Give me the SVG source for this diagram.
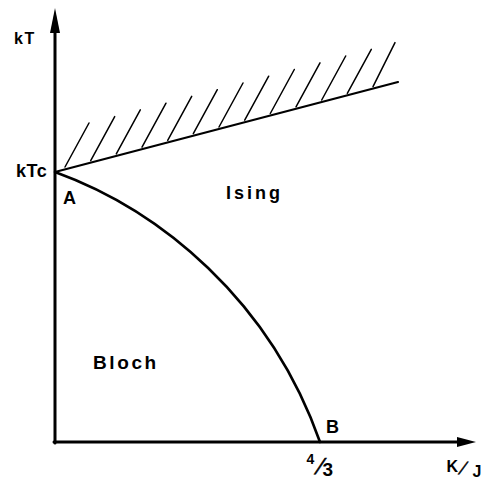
<svg xmlns="http://www.w3.org/2000/svg" width="485" height="480" viewBox="0 0 485 480">
<style>
.lbl{font-family:"Liberation Sans",Arial,sans-serif;font-weight:bold;fill:#000}
.sl{font-family:"Liberation Sans",Arial,sans-serif;fill:#000}
.ln{fill:none;stroke:#000;stroke-linecap:round}
</style>
<rect width="485" height="480" fill="#fff"/>
<g id="connectors">
<g id="axes">
<line class="ln" x1="55" y1="443" x2="55" y2="30" stroke-width="3"/>
<polygon points="55,8 50,33 60,33" fill="#000"/>
<line class="ln" x1="54" y1="442" x2="460" y2="442" stroke-width="3"/>
<polygon points="476,442 457,437 457,447" fill="#000"/>
</g>
<g id="upper-line">
<line class="ln" x1="55" y1="172" x2="398" y2="82" stroke-width="2.2"/>
<path class="ln" stroke-width="1.5" d="M65,167 l24,-44 M90.7,160.6 l24,-44 M116.3,153.9 l24,-44 M142,147.2 l24,-44 M167.7,140.4 l24,-44 M193.3,133.7 l24,-44 M219,127 l24,-44 M244.7,120.2 l24,-44 M270.3,113.5 l24,-44 M296,106.8 l24,-44 M321.7,100 l24,-44 M347.3,93.3 l24,-44 M373,86.6 l22,-44"/>
</g>
<g id="curve-AB">
<path class="ln" stroke-width="2.6" d="M55,172 C160,210 270,300 320,442"/>
</g>
</g>
<g id="label-kT"><text class="lbl" x="14" y="44" font-size="16" letter-spacing="1.5">kT</text></g>
<g id="label-kTc"><text class="lbl" x="16" y="177" font-size="18" letter-spacing="0.5">kTc</text></g>
<g id="node-A"><text class="lbl" x="63" y="204" font-size="18">A</text></g>
<g id="label-Ising"><text class="lbl" x="226" y="199" font-size="18" letter-spacing="3">Ising</text></g>
<g id="label-Bloch"><text class="lbl" x="93" y="369" font-size="19" letter-spacing="2.6">Bloch</text></g>
<g id="node-B"><text class="lbl" x="326" y="433" font-size="18">B</text></g>
<g id="label-43">
<text class="lbl" x="306.5" y="464" font-size="14">4</text>
<text class="sl" transform="translate(314,474) skewX(-22)" font-size="22" stroke="#000" stroke-width="0.6">/</text>
<text class="lbl" x="322.5" y="476" font-size="19">3</text>
</g>
<g id="label-KJ">
<text class="lbl" x="446.5" y="472" font-size="16">K</text>
<text class="sl" transform="translate(458,474) skewX(-25)" font-size="17" stroke="#000" stroke-width="0.5">/</text>
<text class="lbl" x="472.5" y="477" font-size="16">J</text>
</g>
</svg>
